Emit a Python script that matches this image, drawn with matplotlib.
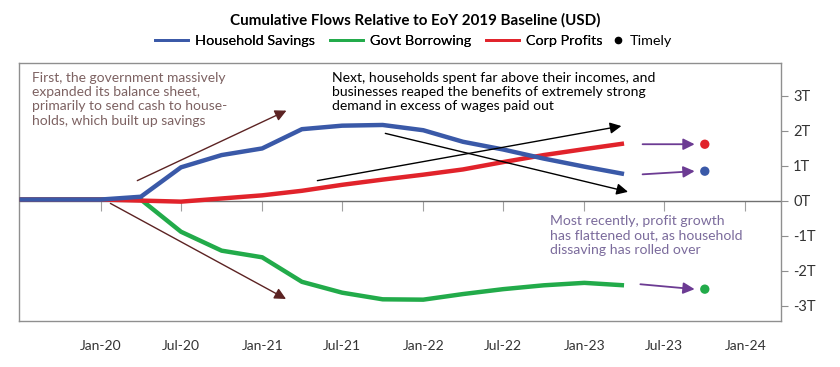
import matplotlib
matplotlib.use("Agg")
import matplotlib.pyplot as plt
import pandas as pd

plt.rcParams['font.family'] = ['Lato', 'DejaVu Sans']

# quarterly observations, trillions of USD
dates = pd.to_datetime([
    '2019-07-01', '2019-10-01', '2020-01-01', '2020-04-01',
    '2020-07-01', '2020-10-01', '2021-01-01', '2021-04-01',
    '2021-07-01', '2021-10-01', '2022-01-01', '2022-04-01',
    '2022-07-01', '2022-10-01', '2023-01-01', '2023-04-01',
])
household_savings = [0.03, 0.03, 0.03, 0.11, 0.95, 1.30, 1.49, 2.04,
                     2.14, 2.16, 2.01, 1.68, 1.46, 1.20, 0.97, 0.76]
govt_borrowing = [0.03, 0.03, 0.03, 0.03, -0.89, -1.43, -1.62, -2.32,
                  -2.63, -2.82, -2.83, -2.67, -2.53, -2.42, -2.35, -2.42]
corp_profits = [0.03, 0.03, 0.03, 0.0, -0.03, 0.06, 0.15, 0.28,
                0.45, 0.60, 0.74, 0.89, 1.10, 1.30, 1.47, 1.63]

timely_date = pd.Timestamp('2023-10-01')
timely_values = {'savings': 0.84, 'govt': -2.53, 'profits': 1.61}

tick_dates = pd.date_range('2020-01-01', '2024-01-01', freq='6MS')
tick_labels = [d.strftime('%b-%y') for d in tick_dates]
y_ticks = [-3, -2, -1, 0, 1, 2, 3]
y_labels = [f'{v}T' for v in y_ticks]

BLUE = '#3a59a8'
GREEN = '#22ab4a'
RED = '#e1232b'
PURPLE = '#6c3b93'
PURPLE_TXT = '#7b6b9c'
BROWN = '#5c2323'
BROWN_TXT = '#7d6262'
FRAME = '#8f8f8f'

fig = plt.figure(figsize=(8.4, 3.67), dpi=100)
ax = fig.add_axes([0.0232, 0.1253, 0.9062, 0.703])

ax.plot(dates, household_savings, color=BLUE, lw=3.2, solid_capstyle='butt', zorder=4)
ax.plot(dates, govt_borrowing, color=GREEN, lw=3.2, solid_capstyle='butt', zorder=3)
ax.plot(dates, corp_profits, color=RED, lw=3.2, solid_capstyle='butt', zorder=3)

ax.scatter([timely_date] * 3,
           [timely_values['profits'], timely_values['savings'], timely_values['govt']],
           color=[RED, BLUE, GREEN], s=45, zorder=5, linewidths=0)

ymin, ymax = -3.44, 3.93
ax.set_ylim(ymin, ymax)
ax.set_xlim(pd.Timestamp('2019-07-01'), pd.Timestamp('2024-03-21'))

ax.axhline(0, color='#707070', lw=1.0, zorder=2)

for s in ax.spines.values():
    s.set_color(FRAME)
    s.set_linewidth(1.0)

ax.yaxis.tick_right()
ax.set_yticks(y_ticks)
ax.set_yticklabels(y_labels)
ax.tick_params(axis='y', direction='out', length=5, width=0.8, color=FRAME,
               labelsize=10.5, labelcolor='#333333', pad=4)

# x labels sit below the frame, tick marks hang from the zero line
ax.set_xticks(tick_dates)
ax.set_xticklabels(tick_labels)
ax.tick_params(axis='x', length=0, labelsize=10, labelcolor='#333333', pad=14)
zero_ax = ax.secondary_xaxis((0 - ymin) / (ymax - ymin))
zero_ax.set_xticks(tick_dates)
zero_ax.set_xticklabels([])
zero_ax.tick_params(direction='out', length=7, width=0.8, color='#a0a0a0')
zero_ax.spines['bottom'].set_visible(False)

def arrow(x0, y0, x1, y1, color, lw=1.0, scale=17):
    ax.annotate('', xy=(pd.Timestamp(x1), y1), xytext=(pd.Timestamp(x0), y0),
                arrowprops=dict(arrowstyle='-|>', color=color, lw=lw,
                                mutation_scale=scale, shrinkA=0, shrinkB=0),
                zorder=6)

arrow('2020-03-24', 0.57, '2021-02-25', 2.57, BROWN)
arrow('2020-01-23', -0.08, '2021-02-24', -2.81, BROWN)
arrow('2021-05-06', 0.57, '2023-03-26', 2.13, 'black')
arrow('2021-10-07', 1.92, '2023-04-10', 0.25, 'black')
arrow('2023-05-13', 1.61, '2023-09-08', 1.61, PURPLE, lw=1.3)
arrow('2023-05-13', 0.75, '2023-09-08', 0.84, PURPLE, lw=1.3)
arrow('2023-05-08', -2.39, '2023-09-08', -2.53, PURPLE, lw=1.3)

ax.text(0.016, 0.965,
        'First, the government massively\nexpanded its balance sheet,\n'
        'primarily to send cash to house-\nholds, which built up savings',
        transform=ax.transAxes, ha='left', va='top', fontsize=10,
        color=BROWN_TXT, linespacing=1.22)
ax.text(0.41, 0.965,
        'Next, households spent far above their incomes, and\n'
        'businesses reaped the benefits of extremely strong\n'
        'demand in excess of wages paid out',
        transform=ax.transAxes, ha='left', va='top', fontsize=10.1,
        color='black', linespacing=1.22)
ax.text(0.697, 0.41,
        'Most recently, profit growth\nhas flattened out, as household\n'
        'dissaving has rolled over',
        transform=ax.transAxes, ha='left', va='top', fontsize=10.1,
        color=PURPLE_TXT, linespacing=1.22)

fig.text(0.494, 0.945, 'Cumulative Flows Relative to EoY 2019 Baseline (USD)',
         ha='center', va='center', fontsize=10.9, fontweight='bold')

line_handles = [
    plt.Line2D([], [], color=BLUE, lw=2),
    plt.Line2D([], [], color=GREEN, lw=2),
    plt.Line2D([], [], color=RED, lw=2),
]
leg = fig.legend(line_handles, ['Household Savings', 'Govt Borrowing', 'Corp Profits'],
                 loc='center', bbox_to_anchor=(0.451, 0.888), ncol=3, frameon=False,
                 fontsize=10.4, handlelength=2.3, handletextpad=0.5,
                 columnspacing=1.0, borderpad=0, borderaxespad=0)
fig.add_artist(leg)
dot_handle = [plt.Line2D([], [], color='black', marker='o', ls='none', markersize=4.5)]
fig.legend(dot_handle, ['Timely'], loc='center', bbox_to_anchor=(0.7655, 0.888),
           frameon=False, fontsize=10.4, handlelength=0.6, handletextpad=0.5,
           borderpad=0, borderaxespad=0)

fig.savefig('out.png', dpi=100)
